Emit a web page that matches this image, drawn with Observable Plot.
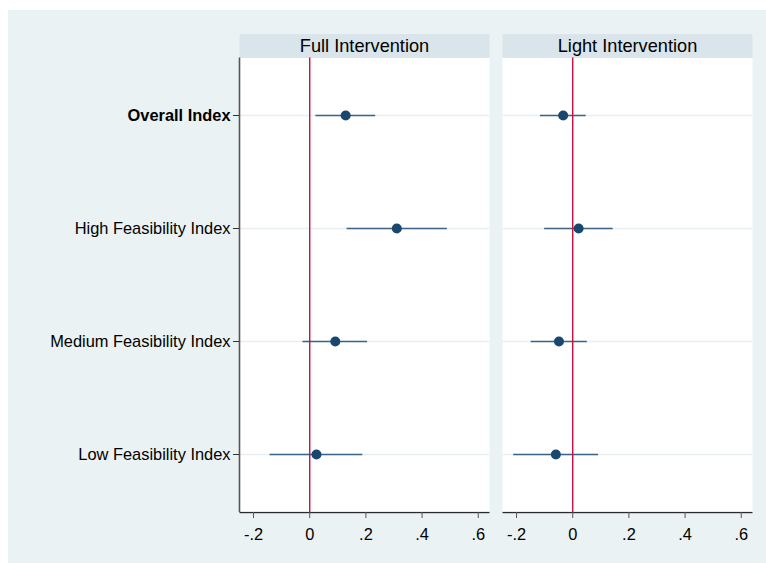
<!DOCTYPE html>
<html>
<head>
<meta charset="utf-8">
<script src="https://cdn.jsdelivr.net/npm/d3@7"></script>
<script src="https://cdn.jsdelivr.net/npm/@observablehq/plot@0.6"></script>
<style>
  html, body { margin: 0; padding: 0; background: #ffffff; }
  #chart { position: relative; width: 766px; height: 563px; overflow: hidden; }
  #chart svg { position: absolute; left: 8px; top: 10px; max-width: none; }
</style>
</head>
<body>
<div id="chart"></div>
<script>
const categories = ["Overall Index", "High Feasibility Index", "Medium Feasibility Index", "Low Feasibility Index"];
const panels = ["Full Intervention", "Light Intervention"];

const fullEst = [0.128, 0.310, 0.091, 0.024];
const fullLo  = [0.022, 0.133, -0.024, -0.141];
const fullHi  = [0.235, 0.490, 0.206, 0.189];

const lightEst = [-0.034, 0.021, -0.049, -0.060];
const lightLo  = [-0.115, -0.100, -0.148, -0.210];
const lightHi  = [0.048, 0.144, 0.052, 0.092];

const xTicks = [-0.2, 0, 0.2, 0.4, 0.6];
const xTickLabels = ["-.2", "0", ".2", ".4", ".6"];

const ests = [fullEst, lightEst];
const los = [fullLo, lightLo];
const his = [fullHi, lightHi];
const rows = [];
panels.forEach((p, j) => categories.forEach((c, i) => {
  rows.push({panel: p, cat: c, est: ests[j][i], lo: los[j][i], hi: his[j][i]});
}));

const W = 758, H = 553;
const mTop = 47.5, mBottom = 51, mLeft = 230.5, mRight = 13.7;
const facetH = H - mTop - mBottom;
const navy = "#1a476f";

const chart = Plot.plot({
  width: W,
  height: H,
  marginTop: mTop,
  marginBottom: mBottom,
  marginLeft: mLeft,
  marginRight: mRight,
  style: {background: "#eaf2f3", fontFamily: "'Liberation Sans', Arial, Helvetica, sans-serif", fontSize: "16px", color: "#000", overflow: "visible"},
  fx: {domain: panels, paddingInner: 0.049, paddingOuter: 0, label: null, axis: null},
  x: {domain: [-0.25, 0.64], label: null},
  y: {domain: categories, type: "point", padding: 0.5, label: null},
  marks: [
    Plot.frame({fill: "#ffffff", stroke: null}),
    Plot.frame({fill: "#d9e5ea", stroke: null, insetTop: -24, insetBottom: facetH}),
    Plot.gridY({stroke: "#e7eff1", strokeOpacity: 1, strokeWidth: 1.6}),
    Plot.frame({fill: "#2b2b2b", stroke: null, insetTop: facetH - 0.6, insetBottom: -0.7}),
    Plot.ruleX([-0.25], {fx: ["Full Intervention"], stroke: "#555555", strokeWidth: 1.6}),
    Plot.ruleY(rows, {fx: "panel", y: "cat", x1: "lo", x2: "hi", stroke: "#3d6385", strokeWidth: 1.7}),
    Plot.ruleX([0], {stroke: "#c8103a", strokeWidth: 1.4}),
    Plot.dot(rows, {fx: "panel", y: "cat", x: "est", r: 5, fill: navy, stroke: null}),
    Plot.axisX({ticks: xTicks, tickFormat: (d) => xTickLabels[xTicks.indexOf(d)] ?? "", tickSize: 6, tickPadding: 10, stroke: "#555555", fill: "#000", fontSize: 16.4, label: null}),
    Plot.axisY({tickSize: 6, tickPadding: 3, stroke: "#333333", fill: "#000", fontSize: 16.4, label: null}),
    Plot.text(panels, {fx: (d) => d, text: (d) => d, frameAnchor: "top", dy: -12, lineAnchor: "middle", fontSize: 18.2, fill: "#000"})
  ]
});

d3.select(chart).selectAll("text").filter(function() { return this.textContent === "Overall Index"; }).attr("font-weight", "bold");
document.getElementById("chart").appendChild(chart);
</script>
</body>
</html>
